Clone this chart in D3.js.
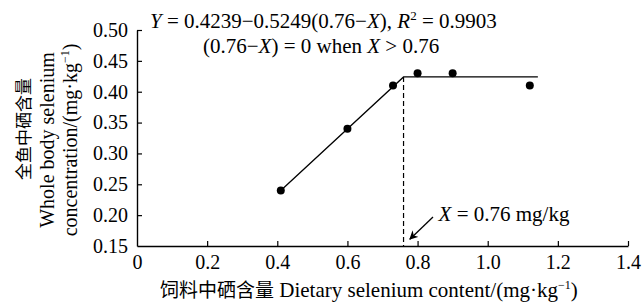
<!DOCTYPE html>
<html>
<head>
<meta charset="utf-8">
<script src="https://d3js.org/d3.v7.min.js"></script>
<style>
  body { margin: 0; background: #fff; }
  svg text { font-family: "Liberation Serif", "Times New Roman", serif; fill: #000; }
  .cjk { font-family: "Noto Sans CJK SC", sans-serif; }
</style>
</head>
<body>
<div id="chart"></div>
<script>
// observed points
var dietSe = [0.41, 0.60, 0.73, 0.80, 0.90, 1.12];
var bodySe = [0.24, 0.34, 0.41, 0.43, 0.43, 0.41];

// broken-line fit: Y = 0.4239 - 0.5249(0.76 - X)
var fitX = [0.41, 0.76, 1.143];
var fitY = [0.240, 0.4239, 0.4239];
var breakX = 0.76;

var xTicks = [0, 0.2, 0.4, 0.6, 0.8, 1.0, 1.2, 1.4];
var yTicks = [0.15, 0.20, 0.25, 0.30, 0.35, 0.40, 0.45, 0.50];

var W = 643, H = 302;
var margin = {top: 30, right: 15, bottom: 56, left: 137};
var width = W - margin.left - margin.right,
    height = H - margin.top - margin.bottom;

var svg = d3.select("#chart").append("svg")
    .attr("width", W)
    .attr("height", H);

// arrow head
svg.append("defs").append("marker")
    .attr("id", "arr")
    .attr("viewBox", "0 0 10 10")
    .attr("refX", 9).attr("refY", 5)
    .attr("markerWidth", 9).attr("markerHeight", 9)
    .attr("markerUnits", "userSpaceOnUse")
    .attr("orient", "auto")
    .append("path")
    .attr("d", "M0,0 L10,5 L0,10 L3,5 Z")
    .attr("fill", "#000");

var g = svg.append("g")
    .attr("transform", "translate(" + margin.left + "," + margin.top + ")");

var x = d3.scaleLinear().domain([0, 1.4]).range([0, width]);
var y = d3.scaleLinear().domain([0.15, 0.50]).range([height, 0]);

// x axis, ticks pointing inward
var xAxis = g.append("g")
    .attr("transform", "translate(0," + height + ")")
    .call(d3.axisBottom(x).tickValues(xTicks)
      .tickFormat(function(d) { return d === 0 ? "0" : d3.format(".1f")(d); })
      .tickSizeInner(-5).tickSizeOuter(0).tickPadding(9));
xAxis.attr("font-family", null).attr("font-size", null);
xAxis.select(".domain").attr("stroke-width", 1.4);
xAxis.selectAll(".tick line").attr("stroke-width", 1.2);
xAxis.selectAll(".tick").filter(function(d) { return d === 0; }).select("line").remove();
xAxis.selectAll("text").style("font-size", "20px");

// y axis
var yAxis = g.append("g")
    .call(d3.axisLeft(y).tickValues(yTicks).tickFormat(d3.format(".2f"))
      .tickSizeInner(-5).tickSizeOuter(0).tickPadding(9));
yAxis.attr("font-family", null).attr("font-size", null);
yAxis.select(".domain").attr("stroke-width", 1.4);
yAxis.selectAll(".tick line").attr("stroke-width", 1.2);
yAxis.selectAll(".tick").filter(function(d) { return d === 0.15; }).select("line").remove();
yAxis.selectAll("text").style("font-size", "20px");

// dashed breakpoint line
g.append("line")
    .attr("x1", x(breakX)).attr("x2", x(breakX))
    .attr("y1", y(fitY[1])).attr("y2", y(0.15))
    .attr("stroke", "#000").attr("stroke-width", 1.2)
    .attr("stroke-dasharray", "5,3");

// fitted line
var fit = fitX.map(function(d, i) { return [d, fitY[i]]; });
g.append("path")
    .datum(fit)
    .attr("fill", "none")
    .attr("stroke", "#000")
    .attr("stroke-width", 1.3)
    .attr("d", d3.line().x(function(d) { return x(d[0]); }).y(function(d) { return y(d[1]); }));

// points
g.selectAll("circle.pt")
    .data(dietSe)
    .enter().append("circle")
    .attr("class", "pt")
    .attr("cx", function(d) { return x(d); })
    .attr("cy", function(d, i) { return y(bodySe[i]); })
    .attr("r", 4)
    .attr("fill", "#000");

// equation
var eq1 = svg.append("text").attr("x", 150).attr("y", 28).style("font-size", "21px");
eq1.append("tspan").attr("font-style", "italic").text("Y");
eq1.append("tspan").text(" = 0.4239\u22120.5249(0.76\u2212");
eq1.append("tspan").attr("font-style", "italic").text("X");
eq1.append("tspan").text("), ");
eq1.append("tspan").attr("font-style", "italic").text("R");
eq1.append("tspan").style("font-size", "13px").attr("dy", -8).text("2");
eq1.append("tspan").attr("dy", 8).text(" = 0.9903");

var eq2 = svg.append("text").attr("x", 203).attr("y", 53).style("font-size", "21px");
eq2.append("tspan").text("(0.76\u2212");
eq2.append("tspan").attr("font-style", "italic").text("X");
eq2.append("tspan").text(") = 0 when ");
eq2.append("tspan").attr("font-style", "italic").text("X");
eq2.append("tspan").text(" > 0.76");

// breakpoint arrow and label
g.append("line")
    .attr("x1", x(0.844)).attr("y1", y(0.197))
    .attr("x2", x(0.778)).attr("y2", y(0.161))
    .attr("stroke", "#000").attr("stroke-width", 1.3)
    .attr("marker-end", "url(#arr)");
var lab = g.append("text").attr("x", x(0.86)).attr("y", y(0.19)).style("font-size", "21px");
lab.append("tspan").attr("font-style", "italic").text("X");
lab.append("tspan").text(" = 0.76 mg/kg");

// x axis title
var xt = svg.append("text")
    .attr("x", 160).attr("y", 297)
    .style("font-size", "21px");
xt.append("tspan").attr("class", "cjk").style("font-size", "19px").text("饲料中硒含量");
xt.append("tspan").text(" Dietary selenium content/(mg\u00b7kg");
xt.append("tspan").style("font-size", "12px").attr("dy", -8).text("\u22121");
xt.append("tspan").attr("dy", 8).text(")");

// y axis titles
var yc = margin.top + height / 2 + 2;
svg.append("text")
    .attr("class", "cjk")
    .attr("transform", "translate(30," + (yc - 11) + ") rotate(-90)")
    .attr("text-anchor", "middle").style("font-size", "17px")
    .style("opacity", 0.999)
    .text("全鱼中硒含量");
svg.append("text")
    .attr("transform", "translate(54," + yc + ") rotate(-90)")
    .attr("text-anchor", "middle").style("font-size", "20px")
    .text("Whole body selenium");
var yt = svg.append("text")
    .attr("transform", "translate(77," + yc + ") rotate(-90)")
    .attr("text-anchor", "middle").style("font-size", "20px");
yt.append("tspan").text("concentration/(mg\u00b7kg");
yt.append("tspan").style("font-size", "12px").attr("dy", -8).text("\u22121");
yt.append("tspan").attr("dy", 8).text(")");
</script>
</body>
</html>
